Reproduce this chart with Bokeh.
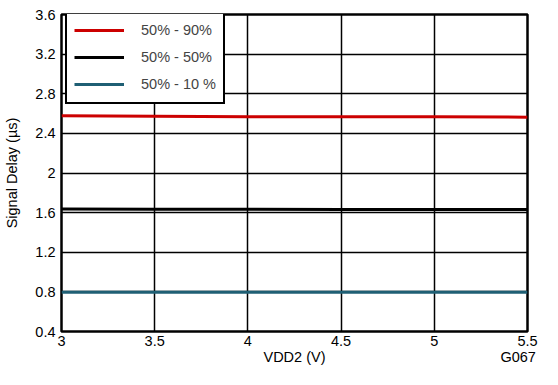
from bokeh.plotting import figure
from bokeh.models import Legend, LegendItem, FixedTicker, LinearAxis
from bokeh.embed import file_html
from bokeh.resources import INLINE

vdd2 = [3.0, 3.5, 4.0, 4.5, 5.0, 5.5]
delay_90 = [2.577, 2.573, 2.569, 2.567, 2.569, 2.563]
delay_50 = [1.636, 1.634, 1.633, 1.632, 1.632, 1.631]
delay_10 = [0.795, 0.796, 0.796, 0.795, 0.795, 0.795]
series_names = ["50% - 90%", "50% - 50%", "50% - 10 %"]
x_ticks = [3, 3.5, 4, 4.5, 5, 5.5]
y_ticks = [0.4, 0.8, 1.2, 1.6, 2.0, 2.4, 2.8, 3.2, 3.6]
x_title = "VDD2 (V)"
y_title = "Signal Delay (µs)"
figure_code = "G067"

FONT = "Liberation Sans"
FS = "14.5px"

p = figure(width=542, height=369, x_range=(3, 5.5), y_range=(0.4, 3.6),
           output_backend="svg", toolbar_location=None,
           min_border_left=61, min_border_right=15, min_border_top=14, min_border_bottom=38)

r1 = p.line(vdd2, delay_90, line_color="#cc0000", line_width=3)
r2 = p.line(vdd2, delay_50, line_color="#000000", line_width=3)
r3 = p.line(vdd2, delay_10, line_color="#1f5f74", line_width=3)

p.xaxis.ticker = FixedTicker(ticks=x_ticks)
p.yaxis.ticker = FixedTicker(ticks=y_ticks)
p.xaxis.major_label_overrides = {3: "3", 3.5: "3.5", 4: "4", 4.5: "4.5", 5: "5", 5.5: "5.5"}
p.yaxis.major_label_overrides = {0.4: "0.4", 0.8: "0.8", 1.2: "1.2", 1.6: "1.6", 2.0: "2", 2.4: "2.4", 2.8: "2.8", 3.2: "3.2", 3.6: "3.6"}

# second row under the x tick labels: axis title and figure code on one line
title_axis = LinearAxis(ticker=FixedTicker(ticks=[4.25, 5.45]),
                        major_label_overrides={4.25: x_title, 5.45: figure_code})
p.add_layout(title_axis, "below")

def style_axis(ax):
    ax.axis_line_color = None
    ax.major_tick_line_color = None
    ax.minor_tick_line_color = None
    ax.major_tick_out = 0
    ax.minor_tick_out = 0
    ax.major_tick_in = 0
    ax.minor_tick_in = 0
    ax.major_label_text_font = FONT
    ax.major_label_text_font_size = FS
    ax.major_label_text_color = "#000000"
    ax.axis_label_text_font = FONT
    ax.axis_label_text_font_size = FS
    ax.axis_label_text_font_style = "normal"
    ax.axis_label_text_color = "#000000"

for ax in (p.xaxis[0], p.yaxis[0], title_axis):
    style_axis(ax)

p.xaxis[0].major_label_standoff = 4
title_axis.major_label_standoff = 0
p.yaxis.major_label_standoff = 6
p.yaxis.axis_label = y_title
p.yaxis.axis_label_standoff = 12

p.grid.grid_line_color = "#000000"
p.grid.grid_line_width = 1.5
p.grid.grid_line_alpha = 1.0
p.outline_line_color = "#000000"
p.outline_line_width = 2.5
p.outline_line_alpha = 1.0

legend = Legend(items=[LegendItem(label=series_names[0], renderers=[r1]),
                       LegendItem(label=series_names[1], renderers=[r2]),
                       LegendItem(label=series_names[2], renderers=[r3])],
                location=(4, 227), margin=0, padding=7, spacing=5,
                glyph_width=50, glyph_height=22, label_standoff=17,
                label_text_font=FONT, label_text_font_size=FS,
                border_line_color="#000000", border_line_width=2.5,
                border_line_alpha=1.0,
                background_fill_color="#ffffff", background_fill_alpha=1.0)
p.add_layout(legend)

open("out.html", "w").write(file_html(p, INLINE))
